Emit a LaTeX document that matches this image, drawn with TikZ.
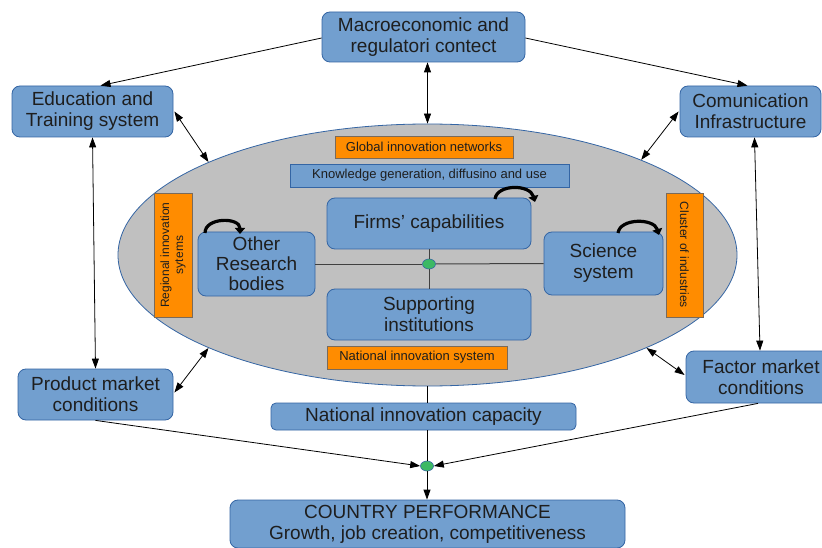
\documentclass[tikz,border=0pt]{standalone}
\usepackage{fontspec}
\setmainfont{Liberation Sans}
\usetikzlibrary{shapes.geometric,arrows.meta,calc}
\definecolor{boxblue}{HTML}{729FCF}
\definecolor{boxedge}{HTML}{3465A4}
\definecolor{orng}{HTML}{FF8C00}
\definecolor{orngedge}{HTML}{7A6A5A}
\definecolor{ellgray}{HTML}{C0C0C0}
\definecolor{dotgreen}{HTML}{3CB964}
\definecolor{txt}{HTML}{1E1E1E}
\begin{document}
\begin{tikzpicture}[x=1pt,y=-1pt,
  bbox/.style={draw=boxedge, fill=boxblue, rounded corners=8pt, line width=0.8pt, align=center, text=txt, inner sep=0pt, font=\fontsize{19}{21}\selectfont},
  sqbox/.style={draw=boxedge, fill=boxblue, line width=0.8pt, inner sep=0pt, text=txt, font=\fontsize{13}{15}\selectfont},
  obox/.style={draw=orngedge, fill=orng, line width=0.6pt, inner sep=0pt, text=txt, font=\fontsize{13}{15}\selectfont},
  vbox/.style={draw=orngedge, fill=orng, line width=0.6pt, inner sep=0pt, text=txt, align=center, font=\fontsize{12}{14}\selectfont},
  conn/.style={line width=0.8pt, draw=black},
  arrowend/.style={-{Triangle[length=10pt,width=7pt]}},
  dbl/.style={{Triangle[length=10pt,width=7pt]}-{Triangle[length=10pt,width=7pt]}},
  loopy/.style={line width=3.2pt, -{Triangle[length=6pt,width=10pt]}},
  gdot/.style={ellipse, draw=boxedge, fill=dotgreen, line width=0.6pt, minimum width=13pt, minimum height=10pt, inner sep=0pt},
  inner/.style={line width=1pt, draw=black!75}
]
\fill[white] (0,0) rectangle (822,548);
\useasboundingbox (0,0) rectangle (822,548);

% big ellipse
\node[ellipse, draw=boxedge, fill=ellgray, line width=0.8pt, minimum width=619pt, minimum height=262pt, inner sep=0pt] (ell) at (427.5,255) {};

% outer boxes
\node[bbox, minimum width=203pt, minimum height=50pt] (macro) at (423.5,37) {Macroeconomic and\\regulatori contect};
\node[bbox, minimum width=161pt, minimum height=51pt] (edu) at (92.5,111.5) {Education and\\Training system};
\node[bbox, minimum width=141pt, minimum height=51pt] (comm) at (750.5,111.5) {Comunication\\Infrastructure};
\node[bbox, minimum width=155pt, minimum height=51pt] (prod) at (95.5,394.5) {Product market\\conditions};
\node[bbox, minimum width=150pt, minimum height=52pt] (fact) at (761,377) {Factor market\\conditions};
\node[bbox, rounded corners=5pt, minimum width=305pt, minimum height=27pt] (nic) at (423.5,416.5) {National innovation capacity};
\node[bbox, minimum width=395pt, minimum height=48pt] (cp) at (427.5,524) {COUNTRY PERFORMANCE\\Growth, job creation, competitiveness};

% inside the ellipse
\node[obox, minimum width=178pt, minimum height=22pt] (glob) at (424,147) {Global innovation networks};
\node[sqbox, minimum width=279pt, minimum height=23pt] (know) at (429.5,175.5) {Knowledge generation, diffusino and use};
\node[bbox, minimum width=204pt, minimum height=51pt] (firms) at (429,223.5) {Firms' capabilities};
\node[bbox, minimum width=117pt, minimum height=64pt, font=\fontsize{19}{20}\selectfont] (other) at (256.5,264) {Other\\Research\\bodies};
\node[bbox, minimum width=119pt, minimum height=63pt] (sci) at (603.5,263.5) {Science\\system};
\node[bbox, minimum width=204pt, minimum height=51pt] (supp) at (429,314.5) {Supporting\\institutions};
\node[obox, minimum width=180pt, minimum height=23pt] (nis) at (417,357.5) {National innovation system};
\node[vbox, minimum width=124pt, minimum height=38pt, rotate=90] (reg) at (173,255) {Regional innovation\\sytems};
\node[vbox, minimum width=124pt, minimum height=37pt, rotate=-90] (clus) at (684.5,255) {Cluster of industries};

% inner cross
\node[gdot] (d1) at (429,264) {};
\draw[inner] (other.east) -- (d1.west);
\draw[inner] (d1.east) -- (sci.west);
\draw[inner] (firms.south) -- (d1.north);
\draw[inner] (d1.south) -- (supp.north);

% loops
\coordinate (oa) at (205,233); \coordinate (ob) at (240,234);
\draw[loopy] (oa) .. controls (205,217) and (240,217) .. (ob);
\coordinate (fa) at (495,199); \coordinate (fb) at (535,202);
\draw[loopy] (fa) .. controls (497,184) and (530,184) .. (fb);
\coordinate (sa) at (618,233); \coordinate (sb) at (659,235);
\draw[loopy] (sa) .. controls (620,218) and (654,218) .. (sb);

% connectors
\draw[conn, arrowend] ($(macro.west)+(0,1)$) -- ($(edu.north)+(8,0)$);
\draw[conn, arrowend] ($(macro.east)+(0,1)$) -- ($(comm.north)+(-3,0)$);
\draw[conn, dbl] (macro.south -| ell.north) -- (ell.north);
\draw[conn, dbl] ($(edu.east)+(1,0)$) -- (ell.157);
\draw[conn, dbl] ($(comm.west)+(-1,0)$) -- (ell.24);
\draw[conn, dbl] (edu.south) -- (prod.north);
\draw[conn, dbl] ($(comm.south)+(4,0)$) -- ($(fact.north)+(-1,0)$);
\draw[conn, dbl] ($(prod.east)+(1,-2)$) -- (ell.203);
\draw[conn, dbl] ($(fact.west)+(-1,-2)$) -- (ell.337);

\node[gdot] (d2) at (427,466) {};
\draw[conn] (ell.south) -- (ell.south |- nic.north);
\draw[conn] (nic.south -| d2.north) -- (d2.north);
\draw[conn, arrowend] (prod.south) -- (d2.west);
\draw[conn, arrowend] ($(fact.south)+(-3,0)$) -- (d2.east);
\draw[conn, arrowend] (d2.south) -- (cp.north -| d2.south);
\end{tikzpicture}
\end{document}
